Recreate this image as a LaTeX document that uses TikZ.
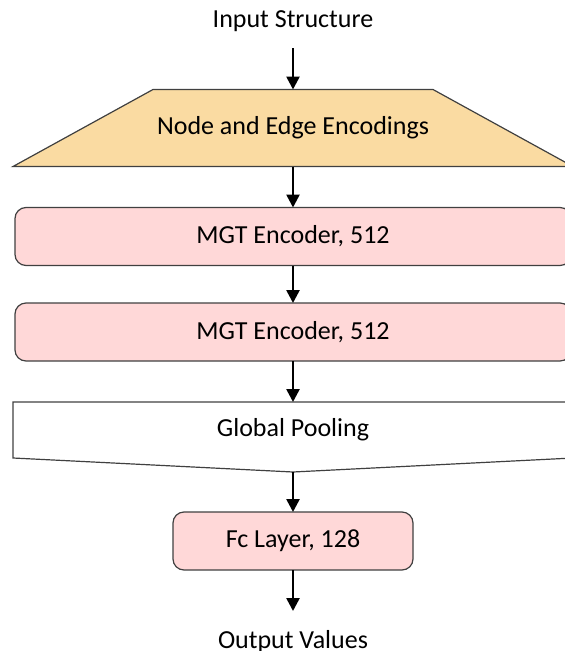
\documentclass[tikz,border=0pt]{standalone}
\usepackage{fontspec}
\setmainfont{Carlito}
\usetikzlibrary{arrows.meta,calc}
\definecolor{encfill}{RGB}{250,219,162}
\definecolor{mgtfill}{RGB}{255,216,216}
\definecolor{edgegray}{RGB}{64,64,64}
\begin{document}
\begin{tikzpicture}[x=1pt,y=-1pt,>={Triangle[length=13pt,width=13pt]},font=\fontsize{26}{30}\selectfont]
	\tikzset{layer/.style={draw=edgegray,line width=1.2pt,rounded corners=11pt,fill=mgtfill,minimum height=58pt,inner sep=0pt,outer sep=0pt},
		bare/.style={inner sep=0pt,outer sep=0pt},
		flow/.style={->,line width=2.6pt}}
	\clip (0,0) rectangle (565,651);
	% input and encodings
	\node[bare,minimum height=54pt] (in) at (293,21) {Input Structure};
	\node[bare,minimum width=280pt,minimum height=77pt] (enc) at (293,128) {};
	\draw[edgegray,line width=1.2pt,fill=encfill] (enc.north west) -- (enc.north east) -- ($(enc.south east)+(140,0)$)
		-- ($(enc.south west)+(-140,0)$) -- cycle;
	\node at (enc) {Node and Edge Encodings};
	% encoder layers
	\node[layer,minimum width=556pt] (mgtA) at (293,236.5) {MGT Encoder, 512};
	\node[layer,minimum width=556pt] (mgtB) at (293,332) {MGT Encoder, 512};
	% pooling
	\node[bare,minimum width=560pt,minimum height=56pt] (pool) at (293,430) {Global Pooling};
	\draw[edgegray,line width=1.2pt] (pool.north west) -- (pool.north east) -- (pool.south east)
		-- ($(pool.south)+(0,14)$) coordinate (poolTip) -- (pool.south west) -- cycle;
	\node[layer,minimum width=240pt] (fc) at (293,541) {Fc Layer, 128};
	\node[bare,minimum height=62pt] (out) at (293,642) {Output Values};
	% arrows
	\draw[flow] (in.south) -- (enc.north);
	\draw[flow] (enc.south) -- (mgtA.north);
	\draw[flow] (mgtA.south) -- (mgtB.north);
	\draw[flow] (mgtB.south) -- (pool.north);
	\draw[flow] (poolTip) -- (fc.north);
	\draw[flow] (fc.south) -- (out.north);
\end{tikzpicture}
\end{document}
